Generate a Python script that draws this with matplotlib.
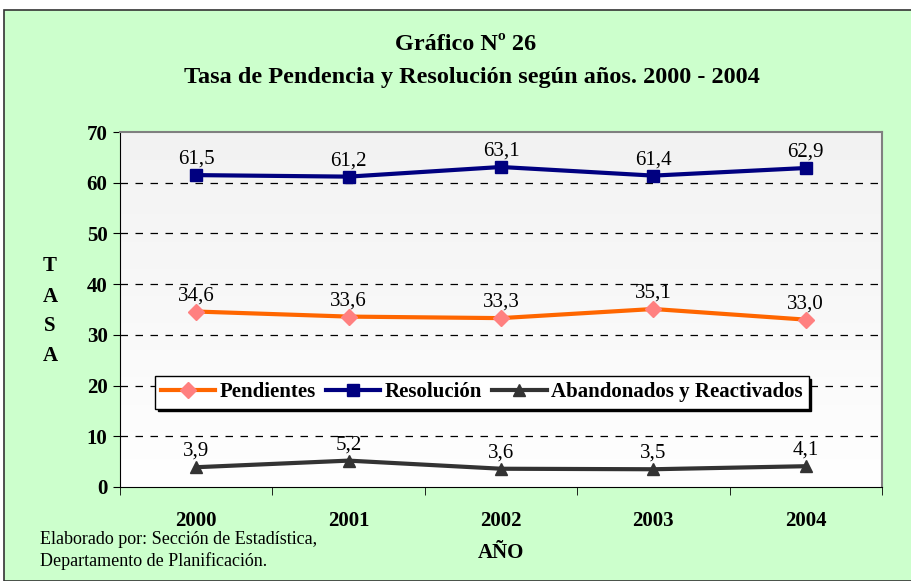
import matplotlib
matplotlib.use("Agg")
import matplotlib.pyplot as plt
from matplotlib.patches import Rectangle
import numpy as np

years = ["2000", "2001", "2002", "2003", "2004"]
pendientes = [34.6, 33.6, 33.3, 35.1, 33.0]
resolucion = [61.5, 61.2, 63.1, 61.4, 62.9]
abandonados = [3.9, 5.2, 3.6, 3.5, 4.1]
yticks = [0, 10, 20, 30, 40, 50, 60, 70]

plt.rcParams['font.family'] = ['Liberation Serif', 'DejaVu Serif']

W, H = 911, 581
fig = plt.figure(figsize=(W/100, H/100), dpi=100)
fig.patch.set_facecolor('white')

# green background box
bg = Rectangle((4/W, 0), 1, 1 - 10/H, transform=fig.transFigure,
               facecolor='#CCFFCC', edgecolor='#333333', linewidth=1.2, zorder=-10)
fig.patches.append(bg)

ax = fig.add_axes([120/W, 1 - 487/H, 762/W, 355/H])
ax.set_zorder(1)
# gradient background
grad = np.linspace(0, 1, 256).reshape(-1, 1)
cmap = matplotlib.colors.LinearSegmentedColormap.from_list('g', ['#F2F2F2', '#FFFFFF'])
ax.imshow(grad, extent=[-0.5, 4.5, 0, 70], aspect='auto', cmap=cmap, origin='upper', zorder=0)
ax.set_facecolor('white')

x = np.arange(len(years))
ax.set_xlim(-0.5, 4.5)
ax.set_ylim(0, 70)
ax.set_yticks(yticks)
ax.set_yticklabels([str(v) for v in yticks], fontsize=15, fontweight='bold')
ax.set_xticks(x)
ax.set_xticklabels(years, fontsize=15, fontweight='bold')
ax.tick_params(axis='x', length=0, pad=17)
ax.set_xticks(np.arange(-0.5, 5.0, 1.0), minor=True)
ax.tick_params(axis='x', which='minor', length=6, direction='out', color='black')
ax.tick_params(axis='y', length=5, direction='out', color='black', pad=4)

for v in yticks[1:-1]:
    ax.axhline(v, color='black', linestyle=(0, (6, 6)), linewidth=0.9, zorder=1)

for s in ['top', 'right']:
    ax.spines[s].set_color('#808080')
    ax.spines[s].set_linewidth(1.5)
ax.spines['left'].set_color('black')
ax.spines['bottom'].set_color('black')

l1, = ax.plot(x, pendientes, color='#FF6600', linewidth=3, marker='D', markersize=8,
              markerfacecolor='#FF8080', markeredgecolor='#FF8080', label='Pendientes', zorder=3)
l2, = ax.plot(x, resolucion, color='#000080', linewidth=3, marker='s', markersize=9,
              markerfacecolor='#000080', markeredgecolor='#000080', label='Resolución', zorder=3)
l3, = ax.plot(x, abandonados, color='#333333', linewidth=3, marker='^', markersize=9,
              markerfacecolor='#333333', markeredgecolor='#333333', label='Abandonados y Reactivados', zorder=3)

for series in (pendientes, resolucion, abandonados):
    for xi, v in zip(x, series):
        ax.annotate(f"{v:.1f}".replace('.', ','), (xi, v), xytext=(0, 4.5), textcoords='offset points',
                    ha='center', va='bottom', fontsize=15, zorder=4)

leg = ax.legend(handles=[l1, l2, l3], loc='upper left', bbox_to_anchor=(35/762, (487-376)/355),
                ncol=3, frameon=True, fancybox=False, shadow={'color': 'black', 'alpha': 1},
                prop={'weight': 'bold', 'size': 15}, handlelength=2.6, handletextpad=0.2,
                columnspacing=0.5, borderpad=0.3, borderaxespad=0)
leg.get_frame().set_edgecolor('black')
leg.get_frame().set_linewidth(1)

fig.text(466/W, 1 - 45/H, "Gráfico Nº 26", ha='center', va='center', fontsize=17.5, fontweight='bold')
fig.text(472/W, 1 - 77/H, "Tasa de Pendencia y Resolución según años. 2000 - 2004", ha='center',
         va='center', fontsize=17.5, fontweight='bold')

for ch, yy in zip("TASA", [266, 297, 326, 356]):
    fig.text(50/W, 1 - yy/H, ch, ha='center', va='center', fontsize=15, fontweight='bold')

fig.text(501/W, 1 - 553/H, "AÑO", ha='center', va='center', fontsize=15, fontweight='bold')
fig.text(40/W, 1 - 539/H, "Elaborado por: Sección de Estadística,", ha='left', va='center', fontsize=13)
fig.text(40/W, 1 - 561/H, "Departamento de Planificación.", ha='left', va='center', fontsize=13)

fig.savefig("out.png", dpi=100, facecolor=fig.get_facecolor())
